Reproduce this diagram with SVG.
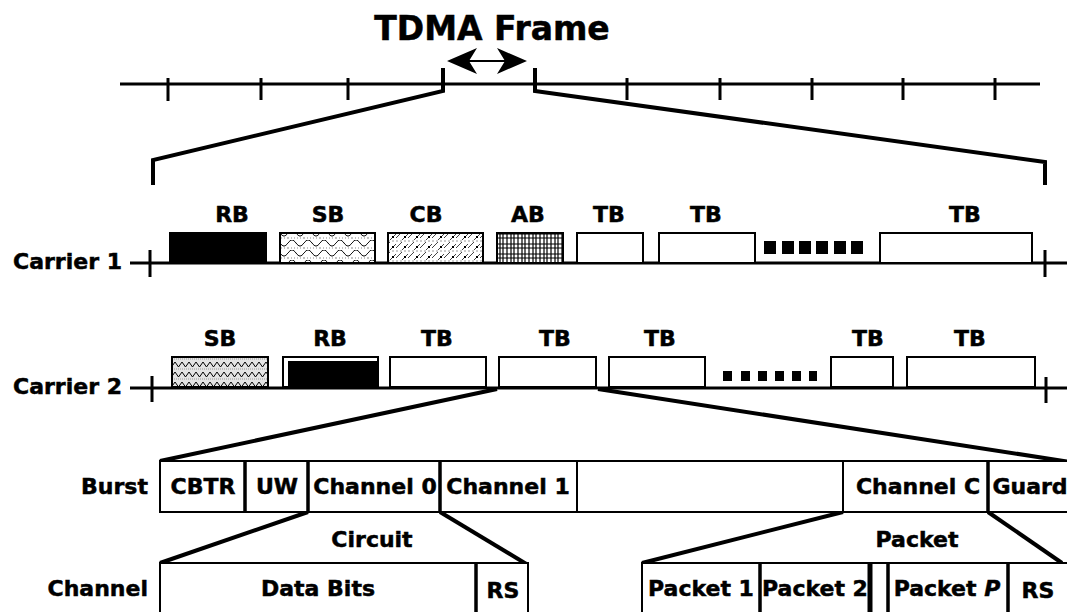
<svg xmlns="http://www.w3.org/2000/svg" width="1067" height="612" viewBox="0 0 1067 612">
<defs>
<style>
text{font-family:"DejaVu Sans",Verdana,sans-serif;font-weight:bold;fill:#000;stroke:#000;stroke-width:0.5}
.t{font-size:22px;text-anchor:middle}
.s{font-size:22px;text-anchor:end}
.box{fill:#fff;stroke:#000;stroke-width:2}
.ln{stroke:#000;stroke-width:3;fill:none}
.dg{stroke:#000;stroke-width:4;fill:none;stroke-linejoin:miter}
.dv{stroke:#000;stroke-width:2}
.dvt{stroke:#000;stroke-width:3.5}
.sq{fill:#000}
</style>
<pattern id="sb1" width="16" height="10" patternUnits="userSpaceOnUse">
<rect width="16" height="10" fill="#fff"/>
<path d="M0 3 C3 -1 5 -1 8 3 C11 7 13 7 16 3" stroke="#000" stroke-width="1" fill="none"/>
<path d="M0 8 L16 8" stroke="#888" stroke-width="1" stroke-dasharray="1 2" fill="none"/>
</pattern>
<pattern id="cb1" width="12" height="10" patternUnits="userSpaceOnUse">
<rect width="12" height="10" fill="#fff"/>
<path d="M0 8 L6 2 M6 10 L12 4" stroke="#444" stroke-width="1" fill="none"/>
<rect x="8" y="6" width="2" height="2" fill="#000"/>
<path d="M0 1 L12 1" stroke="#999" stroke-width="1" stroke-dasharray="2 2"/>
</pattern>
<pattern id="ab1" width="11" height="10" patternUnits="userSpaceOnUse">
<rect width="11" height="10" fill="#fff"/>
<path d="M1 0 V10 M5 0 V10 M8 0 V10" stroke="#000" stroke-width="1.2"/>
<path d="M0 4 H11 M0 8 H11" stroke="#000" stroke-width="1"/>
</pattern>
<pattern id="sb2" width="14" height="10" patternUnits="userSpaceOnUse">
<rect width="14" height="10" fill="#e4e4e4"/>
<path d="M0 2 L3.5 7 L7 2 L10.5 7 L14 2" stroke="#000" stroke-width="1" fill="none"/>
<path d="M0 9 H14" stroke="#999" stroke-width="1" stroke-dasharray="1 1"/>
</pattern>
</defs>
<rect width="1067" height="612" fill="#fff"/>

<g id="frame">
<text x="492" y="40" style="font-size:33px;text-anchor:middle">TDMA Frame</text>
<line x1="466" y1="61" x2="508" y2="61" stroke="#000" stroke-width="2"/>
<path d="M447 61 L477 48 L469 61 L477 74 Z"/>
<path d="M527 61 L497 48 L505 61 L497 74 Z"/>
<line class="ln" x1="120" y1="84" x2="1040" y2="84"/>
<path class="ln" d="M168 78 V101 M261 78 V100 M348 78 V100 M627 78 V100 M720 78 V100 M812 78 V100 M903 78 V100 M995 78 V100"/>
</g>

<g id="connectors">
<polyline class="dg" points="443,68 443,91 153,160 153,185"/>
<polyline class="dg" points="535,68 535,91 1045,162 1045,185"/>
<line class="dg" x1="497" y1="389" x2="160" y2="461"/>
<line class="dg" x1="598" y1="389" x2="1070" y2="462"/>
<line class="dg" x1="308" y1="512" x2="160" y2="563"/>
<line class="dg" x1="440" y1="512" x2="528" y2="565"/>
<line class="dg" x1="843" y1="512" x2="642" y2="563"/>
<line class="dg" x1="988" y1="512" x2="1062" y2="563"/>
</g>

<g id="carrier1">
<text class="s" x="122" y="269">Carrier 1</text>
<line class="ln" x1="130" y1="263" x2="1067" y2="263"/>
<path class="ln" d="M150 250 V277 M1045 250 V277"/>
<g id="c1-rb"><text class="t" x="232" y="222">RB</text><rect x="170" y="233" width="96" height="30" fill="#000" stroke="#000" stroke-width="2"/></g>
<g id="c1-sb"><text class="t" x="328" y="222">SB</text><rect x="280" y="233" width="95" height="30" fill="url(#sb1)" stroke="#000" stroke-width="2"/></g>
<g id="c1-cb"><text class="t" x="426" y="222">CB</text><rect x="388" y="233" width="95" height="30" fill="url(#cb1)" stroke="#000" stroke-width="2"/></g>
<g id="c1-ab"><text class="t" x="528" y="222">AB</text><rect x="497" y="233" width="66" height="30" fill="url(#ab1)" stroke="#000" stroke-width="2"/></g>
<g id="c1-tb1"><text class="t" x="609" y="222">TB</text><rect class="box" x="577" y="233" width="66" height="30"/></g>
<g id="c1-tb2"><text class="t" x="706" y="222">TB</text><rect class="box" x="659" y="233" width="96" height="30"/></g>
<g id="c1-dots"><rect class="sq" x="764" y="241" width="12" height="13"/><rect class="sq" x="782" y="241" width="12" height="13"/><rect class="sq" x="799" y="241" width="12" height="13"/><rect class="sq" x="816" y="241" width="12" height="13"/><rect class="sq" x="834" y="241" width="12" height="13"/><rect class="sq" x="851" y="241" width="12" height="13"/></g>
<g id="c1-tb3"><text class="t" x="965" y="222">TB</text><rect class="box" x="880" y="233" width="152" height="30"/></g>
</g>

<g id="carrier2">
<text class="s" x="122" y="394">Carrier 2</text>
<line class="ln" x1="130" y1="388" x2="1067" y2="388"/>
<path class="ln" d="M152 376 V402 M1046 377 V403"/>
<g id="c2-sb"><text class="t" x="220" y="346">SB</text><rect x="172" y="357" width="96" height="30" fill="url(#sb2)" stroke="#000" stroke-width="2"/></g>
<g id="c2-rb"><text class="t" x="330" y="346">RB</text><rect class="box" x="283" y="357" width="95" height="30"/><rect x="288" y="361" width="90" height="26" fill="#000"/></g>
<g id="c2-tb1"><text class="t" x="437" y="346">TB</text><rect class="box" x="390" y="357" width="96" height="30"/></g>
<g id="c2-tb2"><text class="t" x="555" y="346">TB</text><rect class="box" x="499" y="357" width="97" height="30"/></g>
<g id="c2-tb3"><text class="t" x="660" y="346">TB</text><rect class="box" x="609" y="357" width="96" height="30"/></g>
<g id="c2-dots"><rect class="sq" x="723" y="371" width="9" height="10"/><rect class="sq" x="741" y="371" width="9" height="10"/><rect class="sq" x="758" y="371" width="9" height="10"/><rect class="sq" x="775" y="371" width="9" height="10"/><rect class="sq" x="792" y="371" width="9" height="10"/><rect class="sq" x="809" y="371" width="8" height="10"/></g>
<g id="c2-tb4"><text class="t" x="868" y="346">TB</text><rect class="box" x="831" y="357" width="62" height="30"/></g>
<g id="c2-tb5"><text class="t" x="970" y="346">TB</text><rect class="box" x="907" y="357" width="128" height="30"/></g>
</g>

<g id="burst">
<text class="s" x="148" y="494">Burst</text>
<rect class="box" x="160" y="461" width="920" height="51"/>
<path class="dvt" d="M245 461 V512 M308 461 V512 M440 461 V512 M988 461 V512"/>
<path class="dv" d="M577 461 V512 M843 461 V512"/>
<text class="t" x="203" y="494">CBTR</text>
<text class="t" x="277" y="494">UW</text>
<text class="t" x="375" y="494">Channel 0</text>
<text class="t" x="508" y="494">Channel 1</text>
<text class="t" x="918" y="494">Channel C</text>
<text class="t" x="1030" y="494">Guard</text>
</g>

<g id="circuit">
<text class="t" x="372" y="547">Circuit</text>
<text class="s" x="148" y="596">Channel</text>
<rect class="box" x="160" y="563" width="368" height="70"/>
<path class="dvt" d="M476 563 V612"/>
<text class="t" x="318" y="596">Data Bits</text>
<text class="t" x="503" y="598">RS</text>
</g>

<g id="packet">
<text class="t" x="917" y="547">Packet</text>
<rect class="box" x="642" y="563" width="440" height="70"/>
<path class="dvt" d="M760 563 V612 M888 563 V612 M1008 563 V612"/>
<text class="t" x="815" y="596">Packet 2</text>
<path d="M870 563 V612" stroke="#000" stroke-width="5"/>
<text class="t" x="701" y="596">Packet 1</text>
<text class="t" x="947" y="596">Packet <tspan font-style="italic">P</tspan></text>
<text class="t" x="1038" y="598">RS</text>
</g>
</svg>
